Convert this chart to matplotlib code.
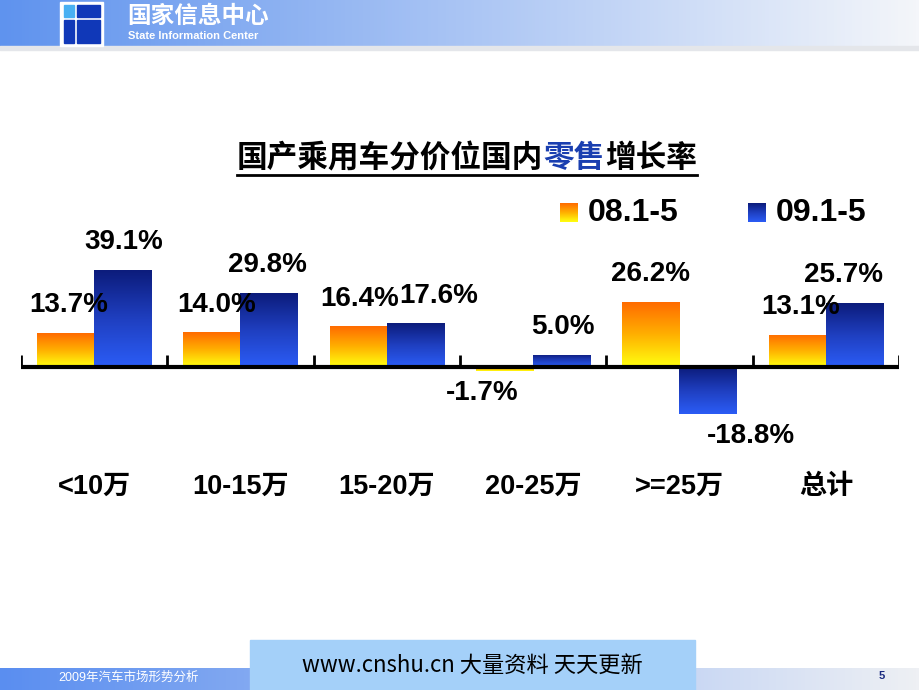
import numpy as np
import matplotlib
matplotlib.use('Agg')
from matplotlib import pyplot as plt
from matplotlib.colors import LinearSegmentedColormap

plt.rcParams['font.family'] = ['Liberation Sans', 'Noto Sans CJK SC', 'DejaVu Sans']

# данные
categories = ['<10万', '10-15万', '15-20万', '20-25万', '>=25万', '总计']
series_names = ['08.1-5', '09.1-5']
growth_08 = [13.7, 14.0, 16.4, -1.7, 26.2, 13.1]
growth_09 = [39.1, 29.8, 17.6, 5.0, -18.8, 25.7]

# сдвиги подписей по x (в пикселях), как на слайде
dx_08 = [3, 5, 1, -22, 0, 3]
dx_09 = [1, -2, 23, 1, 43, -11]

orange_cm = LinearSegmentedColormap.from_list('og', ['#ff6c00', '#ffb000', '#ffff10'])
blue_cm = LinearSegmentedColormap.from_list('bl', ['#0c1c7c', '#1f3fc0', '#2b5cf5'])

fig = plt.figure(figsize=(9.2, 6.9), dpi=100)

# фон слайда (пиксельные координаты)
bg = fig.add_axes([0, 0, 1, 1], zorder=0)
bg.set_xlim(0, 920)
bg.set_ylim(690, 0)
bg.axis('off')

def hgrad(ax, x0, x1, y0, y1, c0, c1, z=1):
    cm = LinearSegmentedColormap.from_list('h', [c0, c1])
    g = np.linspace(0, 1, 256).reshape(1, -1)
    ax.imshow(g, cmap=cm, extent=(x0, x1, y1, y0), aspect='auto', zorder=z)

# шапка
hgrad(bg, 0, 920, 0, 46, '#5f93ee', '#f4f6fa')
bg.fill_between([0, 920], 46, 50, color='#e4e6ea', zorder=1)
# логотип
bg.add_patch(plt.Rectangle((60, 2), 43, 44, color='white', zorder=2))
bg.add_patch(plt.Rectangle((64, 5), 10, 12, color='#49b0f2', zorder=3))
bg.add_patch(plt.Rectangle((77, 5), 23, 12, color='#1038b8', zorder=3))
bg.add_patch(plt.Rectangle((64, 20), 10, 23, color='#1038b8', zorder=3))
bg.add_patch(plt.Rectangle((77, 20), 23, 23, color='#1038b8', zorder=3))
bg.text(127, 16, '国家信息中心', color='white', fontsize=17, fontweight='bold',
        family=['Noto Sans CJK SC'], va='center', ha='left', zorder=4)
bg.text(128, 36, 'State Information Center', color='white', fontsize=8,
        fontweight='bold', va='center', ha='left', zorder=4)

# подвал
hgrad(bg, 0, 920, 668, 690, '#5a8ef0', '#eef0f4')
bg.add_patch(plt.Rectangle((250, 640), 445, 50, color='#a4d0f9', zorder=2))
bg.text(472, 665, 'www.cnshu.cn 大量资料 天天更新', fontsize=16,
        family=['Liberation Sans Narrow', 'Noto Sans CJK SC'],
        ha='center', va='center', zorder=4)
bg.text(58, 678, '2009年汽车市场形势分析', color='white', fontsize=9,
        family=['Liberation Sans', 'Noto Sans CJK SC'], va='center', ha='left', zorder=4)
bg.text(882, 676, '5', color='#1a2a80', fontsize=8, fontweight='bold',
        va='center', ha='center', zorder=4)

# заголовок
em = 460 / 15
fs_title = em * 72 / 100
tx = 237
for part, col in [('国产乘用车分价位国内', 'black'), ('零售', '#1a3fb0'), ('增长率', 'black')]:
    bg.text(tx, 158, part, fontsize=fs_title, fontweight='bold', color=col,
            family=['Noto Sans CJK SC'], ha='left', va='center', zorder=4)
    tx += em * len(part)
bg.plot([237, 697], [175, 175], color='black', lw=2, zorder=4)

# легенда
g = np.linspace(0, 1, 64).reshape(-1, 1)
for (lx, cm, name) in [(560, orange_cm, series_names[0]), (748, blue_cm, series_names[1])]:
    bg.imshow(g, cmap=cm, extent=(lx, lx + 18, 222, 203), aspect='auto', zorder=3)
    bg.text(lx + 28, 213, name, fontsize=23, fontweight='bold', ha='left',
            va='center', zorder=4)
bg.set_xlim(0, 920)
bg.set_ylim(690, 0)

# диаграмма
ax = fig.add_axes([21 / 920, 1 - 466.2 / 690, 878 / 920, 223.2 / 690], zorder=2)
ax.patch.set_alpha(0)
ax.axis('off')

x = np.arange(len(categories))
w = 0.39
bars_08 = ax.bar(x - w / 2, growth_08, w, color='none', zorder=2)
bars_09 = ax.bar(x + w / 2, growth_09, w, color='none', zorder=2)

for bars, cm in [(bars_08, orange_cm), (bars_09, blue_cm)]:
    for b in bars:
        x0 = b.get_x()
        x1 = x0 + b.get_width()
        y0 = min(b.get_y(), b.get_y() + b.get_height())
        y1 = max(b.get_y(), b.get_y() + b.get_height())
        im = ax.imshow(g, cmap=cm, extent=(x0, x1, y0, y1), aspect='auto',
                       origin='upper', zorder=2)
        im.set_clip_path(b)

# ось и засечки
ax.plot([-0.5, 5.5], [0, 0], color='black', lw=3, solid_capstyle='butt', zorder=3)
ax.vlines(np.arange(-0.5, 6.0, 1.0), 0, 4.8, color='black', lw=2, zorder=3)

# подписи значений
for vals, offs, sign in [(growth_08, dx_08, -1), (growth_09, dx_09, 1)]:
    for i, v in enumerate(vals):
        xc = x[i] + sign * w / 2
        dy = 20 if v >= 0 else -16
        ax.annotate(f'{v:.1f}%', (xc, v), xytext=(offs[i] * 0.72, dy),
                    textcoords='offset points', ha='center', va='center',
                    fontsize=20, fontweight='bold', zorder=5, annotation_clip=False)

# категории
for i, c in enumerate(categories):
    ax.text(x[i], -48.4, c, ha='center', va='center', fontsize=19.5,
            fontweight='bold', clip_on=False)

ax.set_xlim(-0.5, 5.5)
ax.set_ylim(-40, 50)

fig.savefig('out.png', dpi=100)
